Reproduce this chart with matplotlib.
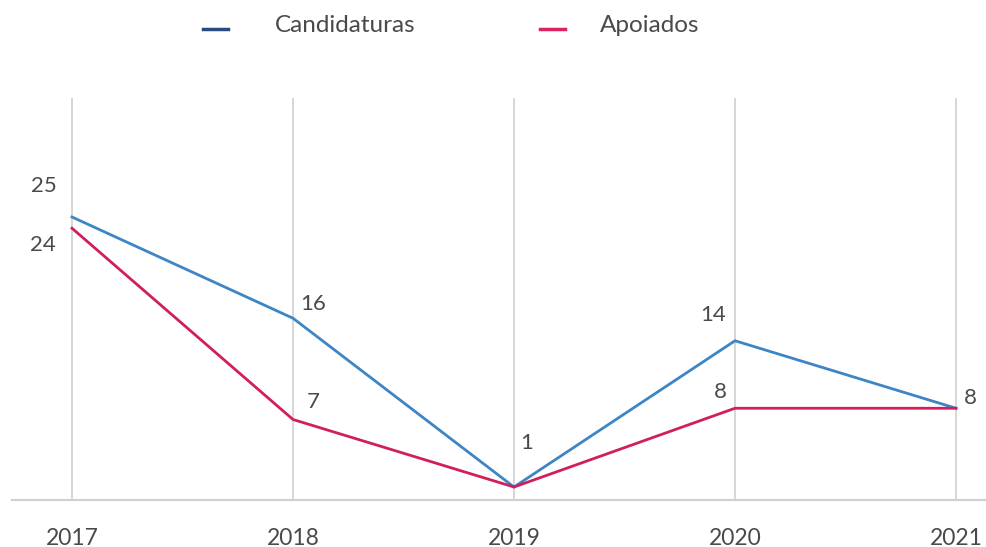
import matplotlib
matplotlib.use("Agg")
import matplotlib.pyplot as plt
from matplotlib.lines import Line2D

plt.rcParams['font.family'] = ['Lato', 'DejaVu Sans']

years = ["2017", "2018", "2019", "2020", "2021"]
candidaturas = [25, 16, 1, 14, 8]
apoiados = [24, 7, 1, 8, 8]
series_names = ["Candidaturas", "Apoiados"]

TEXT = "#4A4A4A"
BLUE = "#3D85C4"
RED = "#D01F5C"
LEG_BLUE = "#2B4A80"
LEG_RED = "#D9245F"
GRID = "#D0D0D0"

W, H = 987, 547
fig = plt.figure(figsize=(W / 100, H / 100), dpi=100)
ax = fig.add_axes([12 / W, 1 - 500 / H, 1 - 12 / W, (500 - 98) / H])

x = list(range(len(years)))
for xi in x:
    ax.axvline(xi, color=GRID, lw=1.2, zorder=1)

ax.plot(x, candidaturas, color=BLUE, lw=2.0, zorder=3, solid_joinstyle='miter')
ax.plot(x, apoiados, color=RED, lw=2.0, zorder=3, solid_joinstyle='miter')

ax.set_xlim(-60 / 221, 4 + 31 / 221)
ax.set_ylim(1 - 13 / 11.25, 1 + (487 - 98) / 11.25)

for s in ["top", "right", "left"]:
    ax.spines[s].set_visible(False)
ax.spines["bottom"].set_color(GRID)
ax.spines["bottom"].set_linewidth(1.5)
ax.set_yticks([])
ax.set_xticks(x)
ax.set_xticklabels(years, fontsize=16.5, color=TEXT)
ax.tick_params(axis='x', length=0, pad=20)

# data labels (offsets in pixels)
cand_offsets = [(-28, 31), (20, 14), (13, 44), (-22, 26), (14, 10)]
apo_offsets = [(-29, -17), (20, 17), None, (-15, 16), None]
for xi, v, off in zip(x, candidaturas, cand_offsets):
    if off is not None:
        ax.annotate(str(v), (xi, v), xytext=off, textcoords='offset pixels',
                    ha='center', va='center', fontsize=16, color=TEXT, zorder=4)
for xi, v, off in zip(x, apoiados, apo_offsets):
    if off is not None:
        ax.annotate(str(v), (xi, v), xytext=off, textcoords='offset pixels',
                    ha='center', va='center', fontsize=16, color=TEXT, zorder=4)

# legend
leg_items = [(series_names[0], LEG_BLUE, 203, 275), (series_names[1], LEG_RED, 540, 600)]
for name, col, x0, tx in leg_items:
    fig.add_artist(Line2D([x0 / W, (x0 + 25) / W], [1 - 28.5 / H, 1 - 28.5 / H],
                          color=col, lw=2.5, transform=fig.transFigure))
    fig.text(tx / W, 1 - 25 / H, name, fontsize=17.5, color=TEXT, ha='left', va='center')

fig.savefig("out.png", dpi=100)
